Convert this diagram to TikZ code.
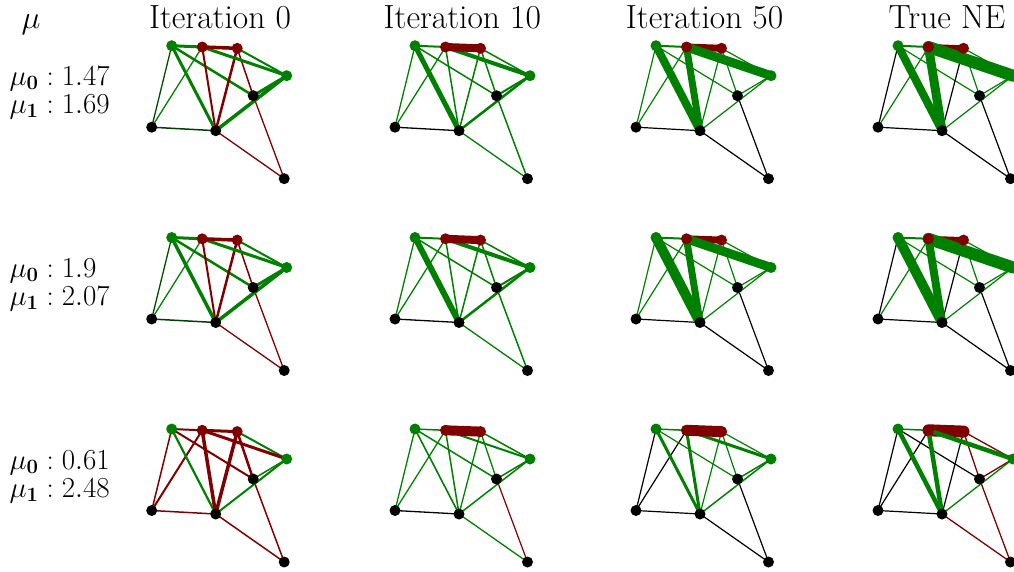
\RequirePackage{fix-cm}
\documentclass[tikz,border=0pt]{standalone}
\usepackage{tikz}
\usetikzlibrary{positioning,backgrounds}
\definecolor{netgreen}{HTML}{008000}
\definecolor{netred}{HTML}{800000}

% one network panel: origin (vertex A), name prefix, edge list u/v/colour/width
\newcommand{\netpanel}[4]{%
  \begin{scope}[shift={(#1,#2)}]
    \node[vtx, fill=netgreen] (#3A) at (0,0) {};
    \node[vtx, fill=netred]   (#3B) at (30.5,1.3) {};
    \node[vtx, fill=netred]   (#3C) at (65.5,2.6) {};
    \node[vtx, fill=netgreen] (#3D) at (115,30) {};
    \node[vtx] (#3E) at (81.5,50) {};
    \node[vtx] (#3F) at (-20,81.5) {};
    \node[vtx] (#3G) at (44,85) {};
    \node[vtx] (#3H) at (112.5,133) {};
    \begin{pgfonlayer}{background}
      \foreach \eu/\ev/\ecol/\ewd in {#4}
        \draw[edge, \ecol, line width=\ewd pt] (#3\eu.center) -- (#3\ev.center);
    \end{pgfonlayer}
  \end{scope}}

\begin{document}
\begin{tikzpicture}[x=1pt, y=-1pt,
    vtx/.style={circle, fill=black, minimum size=11pt, inner sep=0pt},
    edge/.style={line cap=round},
    title/.style={anchor=base, font=\fontsize{33.5}{40}\selectfont},
    lab/.style={anchor=base west, font=\fontsize{29}{34}\selectfont}]
  \useasboundingbox (0,0) rectangle (1014,571);

  % column titles
  \node[anchor=base, font=\fontsize{32}{38}\selectfont] (mu) at (31,28) {$\mu$};
  \node[title] (t0) at (220,28) {Iteration 0};
  \node[title] (t1) at (462.3,28) {Iteration 10};
  \node[title] (t2) at (704.6,28) {Iteration 50};
  \node[title] (t3) at (947,28) {True NE};

  % mu values of each row
  \node[lab] (m00) at (6,85) {$\mu_{\mathbf{0}}:1.47$};
  \node[lab] (m01) at (6,113) {$\mu_{\mathbf{1}}:1.69$};
  \node[lab] (m10) at (6,277) {$\mu_{\mathbf{0}}:1.9$};
  \node[lab] (m11) at (6,305) {$\mu_{\mathbf{1}}:2.07$};
  \node[lab] (m20) at (6,469) {$\mu_{\mathbf{0}}:0.61$};
  \node[lab] (m21) at (6,497) {$\mu_{\mathbf{1}}:2.48$};

  % row 0
  \netpanel{171.7}{45.7}{a0}{A/F/netgreen!60!black/1.3, B/F/netgreen/1.3, F/G/netgreen!50!black/1.5,
    G/H/netred/1.3, E/H/netred/1.3, C/E/netred/1.5, A/E/netgreen/2.5, C/D/netgreen/2,
    B/G/netred/2, C/G/netred/2.5, A/G/netgreen/3, B/D/netgreen/3, D/E/netgreen/3,
    D/G/netgreen/3.5, A/B/netgreen/3, B/C/netred/3.5}
  \netpanel{415}{45.7}{a1}{A/F/netgreen/1.3, B/F/netgreen/1.3, F/G/black/1.3,
    G/H/netgreen/1.3, E/H/netgreen/1.5, C/E/netgreen/1.5, A/E/netgreen/1.5, C/D/netgreen/1.5,
    B/G/netgreen/1.5, C/G/netgreen/1.5, D/E/netgreen/2, D/G/netgreen/2.5, A/B/netgreen/2,
    B/D/netgreen/4, A/G/netgreen/5, B/C/netred/8}
  \netpanel{656}{45.7}{a2}{A/F/netgreen/1.2, B/F/netgreen/1.2, F/G/black/1.2,
    G/H/black/1.2, E/H/black/1.2, C/E/netgreen/1.2, A/E/netgreen/1.2, C/D/netgreen/1.2,
    C/G/netgreen/1.2, D/E/netgreen/1.2, D/G/netgreen/1.2, A/B/netgreen/2,
    B/C/netred/7, B/G/netgreen/7, A/G/netgreen/8, B/D/netgreen/9}
  \netpanel{898}{45.7}{a3}{A/F/black/1.2, B/F/netgreen/1.2, F/G/black/1.2,
    G/H/black/1.2, E/H/black/1.2, C/E/netgreen/1.2, A/E/netgreen/1.2, C/D/netgreen/1.2,
    C/G/black/1.2, D/E/netgreen/1.2, D/G/netgreen/1.2, A/B/netgreen/2,
    B/C/netred/6, A/G/netgreen/8, B/G/netgreen/9, B/D/netgreen/12}

  % row 1
  \netpanel{171.7}{237.5}{b0}{A/F/netgreen!60!black/1.3, B/F/netgreen/1.3, F/G/netgreen!50!black/1.5,
    G/H/netred/1.3, E/H/netred/1.3, C/E/netred/1.5, A/E/netgreen/2.5, C/D/netgreen/2,
    B/G/netred/2, C/G/netred/2.5, B/D/netgreen/3, D/E/netgreen/3, A/G/netgreen/3.5,
    D/G/netgreen/3.5, A/B/netgreen/3, B/C/netred/3.5}
  \netpanel{415}{237.5}{b1}{A/F/netgreen/1.3, B/F/netgreen/1.3, F/G/black/1.3,
    G/H/netgreen/1.3, E/H/netgreen/1.5, C/E/netgreen/1.5, A/E/netgreen/1.5, C/D/netgreen/1.5,
    B/G/netgreen/1.5, C/G/netgreen/1.5, D/E/netgreen/2, D/G/netgreen/2.5, A/B/netgreen/2,
    B/D/netgreen/4, A/G/netgreen/6, B/C/netred/8}
  \netpanel{656}{237.5}{b2}{A/F/netgreen/1.2, B/F/netgreen/1.2, F/G/black/1.2,
    G/H/black/1.2, E/H/black/1.2, C/E/netgreen/1.2, A/E/netgreen/1.2, C/D/netgreen/1.2,
    C/G/netgreen/1.2, D/E/netgreen/1.2, D/G/netgreen/1.2, A/B/netgreen/2,
    B/C/netred/7, B/G/netgreen/7, B/D/netgreen/9, A/G/netgreen/10}
  \netpanel{898}{237.5}{b3}{A/F/black/1.2, B/F/netgreen/1.2, F/G/black/1.2,
    G/H/black/1.2, E/H/black/1.2, C/E/netgreen/1.2, A/E/netgreen/1.2, C/D/netgreen/1.2,
    C/G/black/1.2, D/E/netgreen/1.2, D/G/netgreen/1.2, A/B/netgreen/2,
    B/C/netred/6, B/G/netgreen/8, A/G/netgreen/10, B/D/netgreen/12}

  % row 2
  \netpanel{171.7}{429}{c0}{A/F/netred/1.5, B/F/netred/2, F/G/netred/1.5,
    G/H/netred/1.5, E/H/netred/1.5, D/E/netgreen/1.5, A/E/netred/2, C/D/netgreen/2,
    D/G/netgreen/2, A/G/netgreen/2.2, C/E/netred/2.5, B/D/netred/3,
    B/G/netred/3.5, C/G/netred/3.5, A/B/netred/2, B/C/netred/3}
  \netpanel{415}{429}{c1}{A/F/netgreen/1.3, B/F/netgreen/1.3, F/G/black/1.3,
    G/H/netgreen/1.3, E/H/netred/1.2, C/E/netgreen/1.3, A/E/netgreen/1.5, C/D/netgreen/1.5,
    B/G/netgreen/1.5, C/G/netgreen/1.3, D/E/netgreen/1.5, D/G/netgreen/1.5, A/B/netgreen/1.5,
    A/G/netgreen/1.6, B/D/netgreen/2, B/C/netred/10}
  \netpanel{656}{429}{c2}{A/F/black/1.2, B/F/black/1.2, F/G/black/1.2,
    G/H/black/1.2, E/H/black/1.2, C/E/netgreen/1.2, A/E/netgreen/1.2, C/D/netgreen/1.2,
    C/G/netgreen/1.2, D/E/netgreen/1.5, D/G/netgreen/1.5, A/B/netgreen/1.5,
    A/G/netgreen/3, B/G/netgreen/3, B/D/netgreen/3, B/C/netred/11}
  \netpanel{898}{429}{c3}{A/F/black/1.2, B/F/black/1.2, F/G/black/1.2,
    G/H/netred/1.3, E/H/netred/1.3, C/E/netred/1.3, A/E/black/1.2, C/D/netred/1.3,
    C/G/black/1.2, D/E/netred/1.3, D/G/netgreen/1.3, A/B/netgreen/1.5,
    B/C/netred/12, A/G/netgreen/4.5, B/G/netgreen/4.5, B/D/netgreen/4.5}
\end{tikzpicture}
\end{document}
